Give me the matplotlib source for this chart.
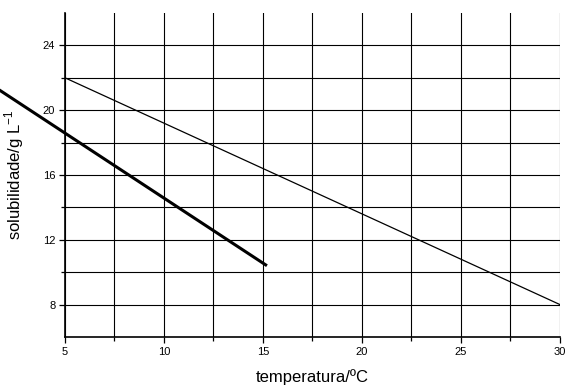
import numpy as np
import matplotlib
matplotlib.use('Agg')
import matplotlib.pyplot as plt
from matplotlib.ticker import MultipleLocator, FixedLocator

plt.rcParams['font.family'] = ['Liberation Sans', 'DejaVu Sans']

# dados
temp_fina = [5, 30]
sol_fina = [22, 8]
temp_grossa = [0, 15.2]
sol_grossa = [22.6, 10.4]

xticks = [5, 10, 15, 20, 25, 30]
yticks = [8, 12, 16, 20, 24]
yticks_menores = [10, 14, 18, 22]

fig = plt.figure(figsize=(5.66, 3.87), dpi=100)
ax = fig.add_axes([0.1148, 0.1292, 0.8746, 0.8372])

ax.plot(temp_fina, sol_fina, color='black', lw=0.9)
ax.plot(temp_grossa, sol_grossa, color='black', lw=2.2, clip_on=False,
        solid_capstyle='butt')

ax.set_xlim(5, 30)
ax.set_ylim(6, 26)
ax.set_xticks(xticks)
ax.set_yticks(yticks)
ax.xaxis.set_minor_locator(MultipleLocator(2.5))
ax.yaxis.set_minor_locator(FixedLocator(yticks_menores))
ax.grid(True, which='both', color='black', lw=0.8)
ax.set_axisbelow(True)

ax.spines['top'].set_visible(False)
ax.spines['right'].set_visible(False)
ax.spines['left'].set_linewidth(1.2)
ax.spines['bottom'].set_linewidth(1.2)
ax.tick_params(which='major', direction='out', length=4, width=0.9, labelsize=8, pad=3)
ax.tick_params(which='minor', direction='out', length=3, width=0.9)

ax.set_xlabel('temperatura/ºC', fontsize=12, labelpad=9)
ax.set_ylabel('solubilidade/g L$^{\\mathregular{-1}}$', fontsize=12, labelpad=12)

fig.savefig('out.png', dpi=100)
